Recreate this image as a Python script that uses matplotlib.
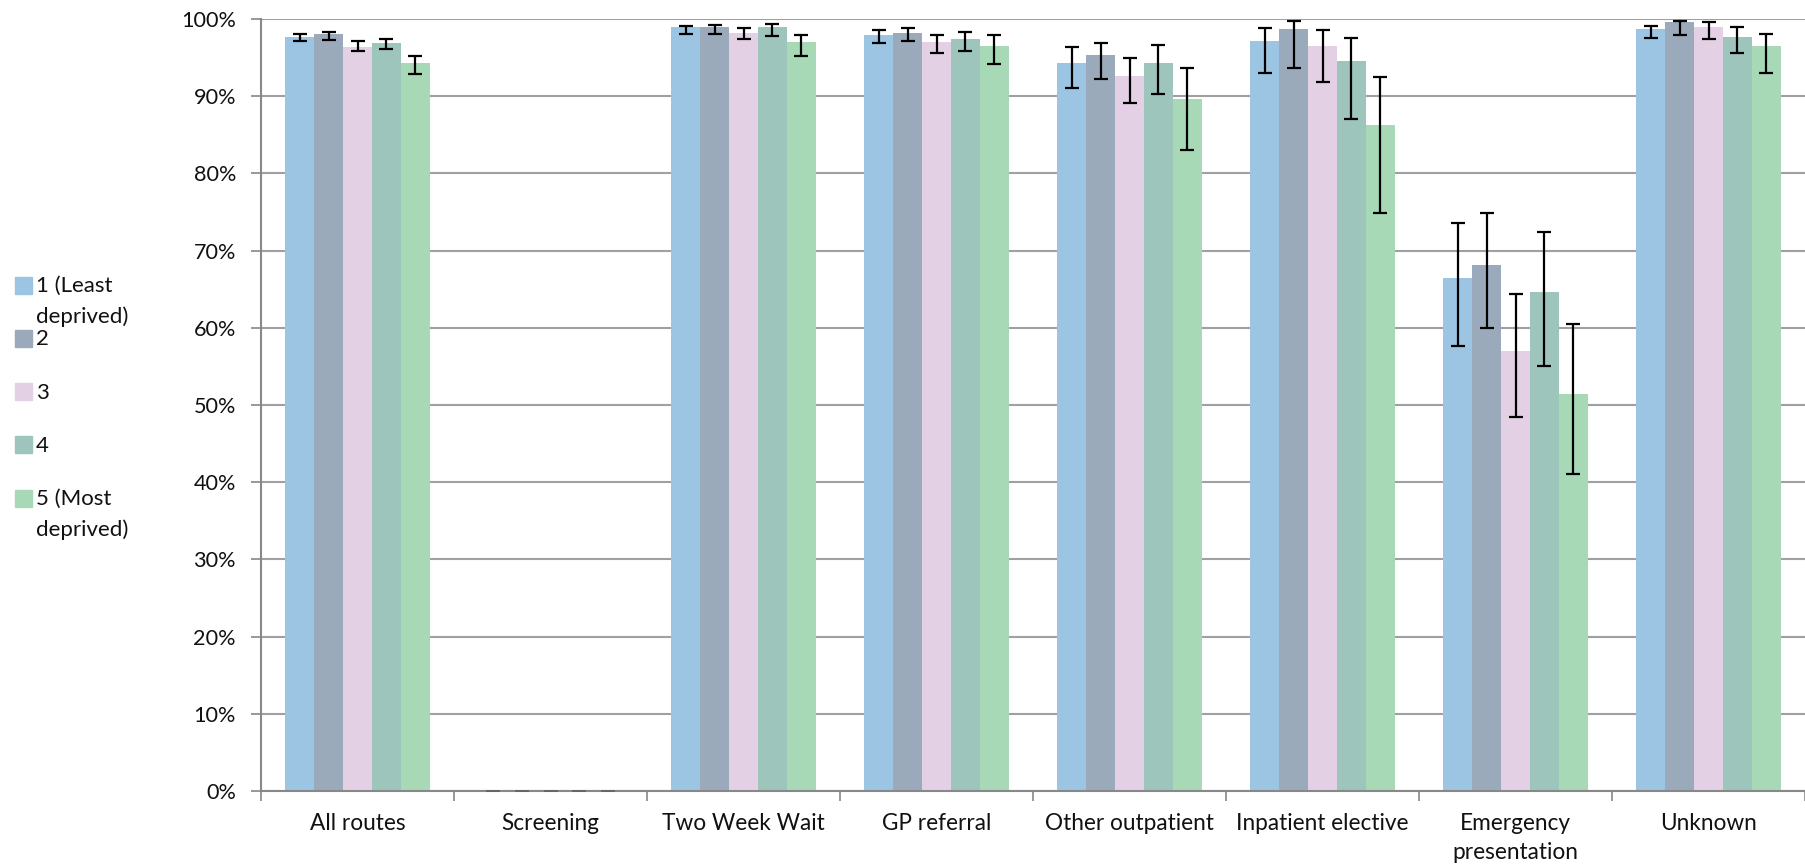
import numpy as np
import matplotlib
matplotlib.use("Agg")
import matplotlib.pyplot as plt
from matplotlib.patches import Rectangle
from matplotlib.ticker import PercentFormatter, FixedLocator

plt.rcParams['font.family'] = ['Lato', 'DejaVu Sans']

# Route categories shown along the x axis
categories = ["All routes", "Screening", "Two Week Wait", "GP referral",
              "Other outpatient", "Inpatient elective",
              "Emergency\npresentation", "Unknown"]

# Deprivation quintiles (legend)
quintiles = ["1 (Least\ndeprived)", "2", "3", "4", "5 (Most\ndeprived)"]
colors = ["#9BC5E3", "#9AAABB", "#E4D0E4", "#9DC5BB", "#A7D9B6"]

# Percentage per route, one list per quintile
q1 = [97.7, 0, 98.9, 97.96, 94.3, 97.2, 66.4, 98.7]
q2 = [98.0, 0, 98.9, 98.2, 95.3, 98.65, 68.1, 99.65]
q3 = [96.4, 0, 98.2, 96.96, 92.6, 96.5, 57.0, 98.96]
q4 = [96.9, 0, 98.9, 97.4, 94.3, 94.5, 64.7, 97.7]
q5 = [94.25, 0, 96.96, 96.5, 89.7, 86.3, 51.4, 96.5]

# 95% confidence limits
q1_low = [97.1, 0, 98.1, 96.9, 91.0, 93.0, 57.6, 97.6]
q1_high = [98.1, 0, 99.1, 98.6, 96.4, 98.8, 73.6, 99.1]
q2_low = [97.3, 0, 98.1, 97.1, 92.2, 93.7, 60.0, 97.9]
q2_high = [98.3, 0, 99.2, 98.8, 96.9, 99.8, 74.85, 99.8]
q3_low = [95.8, 0, 97.35, 95.65, 89.1, 91.8, 48.4, 97.35]
q3_high = [97.1, 0, 98.8, 97.9, 94.9, 98.6, 64.4, 99.6]
q4_low = [96.1, 0, 97.8, 95.9, 90.3, 87.1, 55.1, 95.65]
q4_high = [97.4, 0, 99.35, 98.3, 96.65, 97.6, 72.4, 98.9]
q5_low = [92.9, 0, 95.2, 94.2, 83.0, 74.9, 41.1, 93.0]
q5_high = [95.2, 0, 97.9, 97.9, 93.7, 92.5, 60.5, 98.1]

series = [(q1, q1_low, q1_high), (q2, q2_low, q2_high), (q3, q3_low, q3_high),
          (q4, q4_low, q4_high), (q5, q5_low, q5_high)]

W, H = 1805, 868
fig = plt.figure(figsize=(W / 100, H / 100), dpi=100)
ax = fig.add_axes([261 / W, 77 / H, 1544 / W, 772 / H])

x = np.arange(len(categories))
bar_w = 0.15
for i, (vals, lo, hi) in enumerate(series):
    vals = np.array(vals, dtype=float)
    lo = np.array(lo, dtype=float)
    hi = np.array(hi, dtype=float)
    pos = x + (i - 2) * bar_w
    ax.bar(pos, vals, width=bar_w, color=colors[i], zorder=2)
    nz = vals > 0
    ax.errorbar(pos[nz], vals[nz], yerr=[vals[nz] - lo[nz], hi[nz] - vals[nz]],
                fmt='none', ecolor='black', elinewidth=1.6, capsize=5,
                capthick=1.6, zorder=3)
    # zero-width intervals (Screening) only leave a faint grey cap
    ax.errorbar(pos[~nz], vals[~nz], yerr=[vals[~nz] - lo[~nz], hi[~nz] - vals[~nz]],
                fmt='none', ecolor='#666666', elinewidth=1.2, capsize=5,
                capthick=1.2, zorder=3)

ax.set_xlim(-0.5, len(categories) - 0.5)
ax.set_ylim(0, 100)
ax.yaxis.set_major_locator(FixedLocator(np.arange(0, 101, 10)))
ax.yaxis.set_major_formatter(PercentFormatter(xmax=100, decimals=0))
ax.grid(axis='y', color='#A0A0A0', linewidth=1.5, zorder=0)
ax.set_axisbelow(True)

# category boundaries get the tick marks, names sit in between
ax.set_xticks(np.arange(-0.5, len(categories), 1.0))
ax.set_xticklabels([])
ax.set_xticks(x, minor=True)
ax.set_xticklabels(categories, minor=True, fontsize=16.3, color='#111111',
                   linespacing=1.45)
ax.tick_params(axis='x', which='major', length=7, width=1.2, color='#888888', direction='out')
ax.tick_params(axis='x', which='minor', length=0, pad=16)
ax.tick_params(axis='y', length=7, width=1.2, color='#888888', labelsize=15.6,
               labelcolor='#111111', pad=11)

for s in ['top', 'right']:
    ax.spines[s].set_visible(False)
for s in ['left', 'bottom']:
    ax.spines[s].set_color('#888888')
    ax.spines[s].set_linewidth(1.5)

# legend on the left, drawn by hand like the original
for i, lab in enumerate(quintiles):
    cy = 285 + i * 53.3
    fig.add_artist(Rectangle((15 / W, 1 - (cy + 8.5) / H), 17 / W, 17 / H,
                             transform=fig.transFigure, color=colors[i]))
    for j, line in enumerate(lab.split("\n")):
        fig.text(36 / W, 1 - (cy + 1 + j * 31) / H, line, fontsize=16,
                 color='#111111', va='center', ha='left')

fig.savefig("out.png", dpi=100)
